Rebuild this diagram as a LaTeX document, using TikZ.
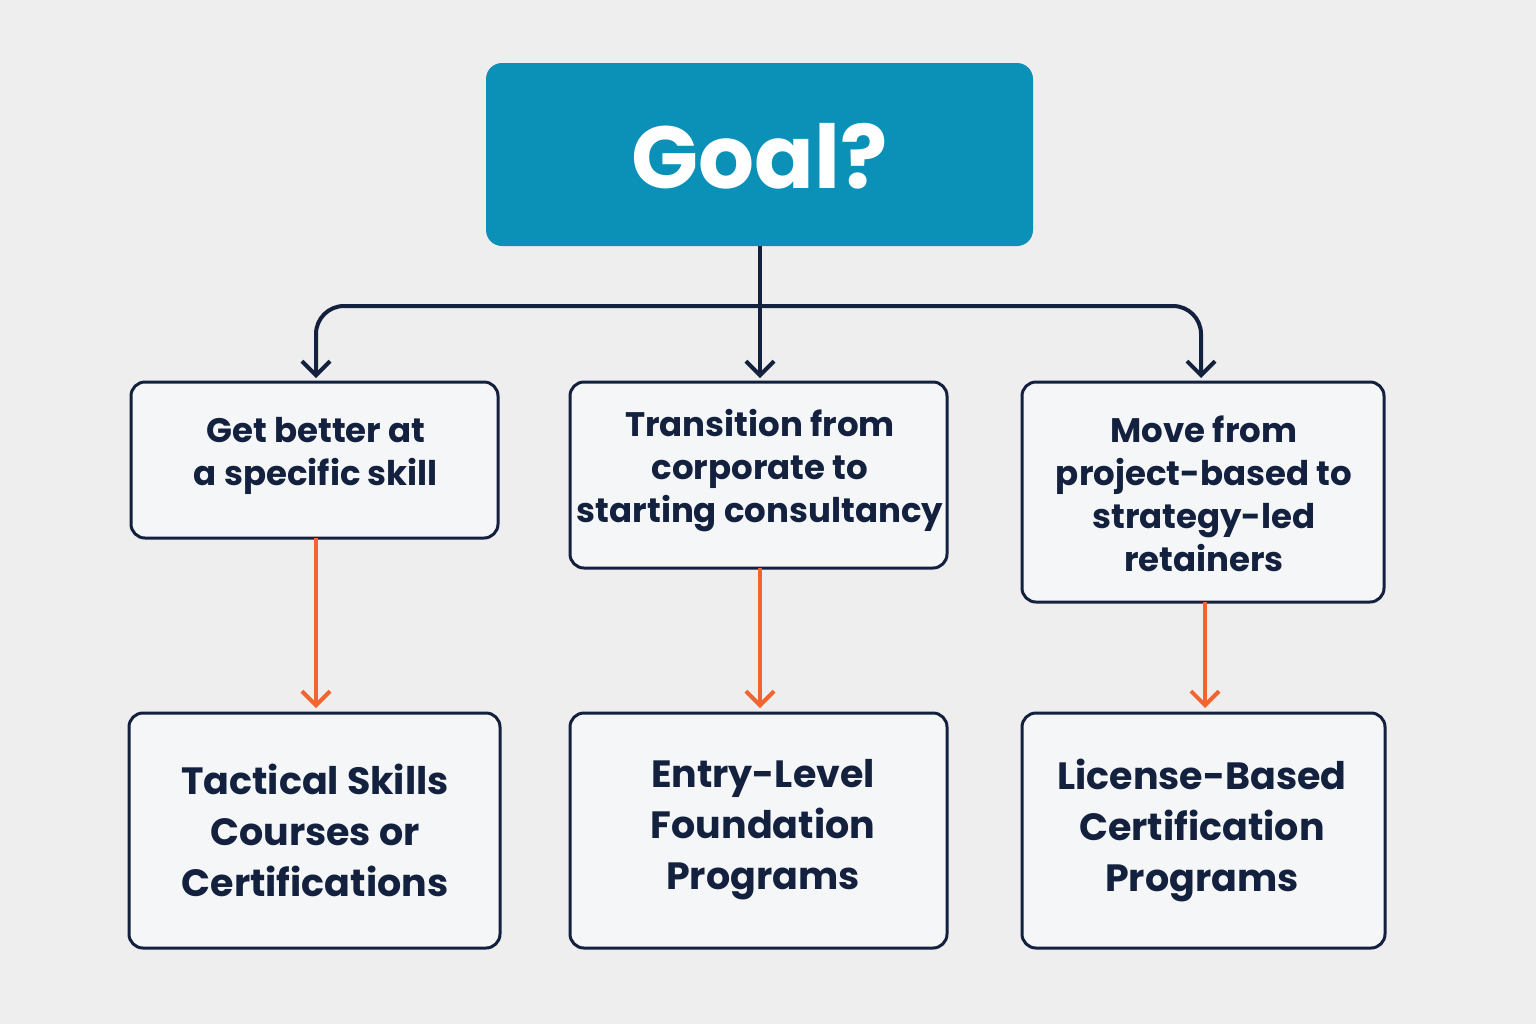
\documentclass[tikz,border=0pt]{standalone}
\usepackage{fontspec}
\setmainfont{Poppins}
\usetikzlibrary{arrows.meta}
\definecolor{bg}{HTML}{EEEEEE}
\definecolor{teal}{HTML}{0B91B8}
\definecolor{navy}{HTML}{13213F}
\definecolor{orng}{HTML}{F26430}
\definecolor{boxf}{HTML}{F5F6F7}
\tikzset{
  px/.style={x=0.5pt,y=-0.5pt},
  card/.style={draw=navy,line width=1.5pt,fill=boxf,rounded corners=7pt},
  lbl/.style={text=navy,align=center,font=\fontsize{17}{21.5}\selectfont\bfseries},
  lbl2/.style={text=navy,align=center,font=\fontsize{19}{25.5}\selectfont\bfseries},
  navyarrow/.style={draw=navy,line width=2pt,-{Straight Barb[length=7pt,width=14pt,line width=2pt]}},
  orarrow/.style={draw=orng,line width=2pt,-{Straight Barb[length=7pt,width=14pt,line width=2pt]}}
}
\begin{document}
\begin{tikzpicture}[px]
\fill[bg] (0,0) rectangle (1536,1024);
\useasboundingbox (0,0) rectangle (1536,1024);
\fill[teal,rounded corners=8pt] (486,63) rectangle (1033,246);
\node[text=white,font=\fontsize{44}{50}\selectfont\bfseries] (goal) at (759.5,156) {Goal?};
\coordinate (gb) at (760,246);
% row 1
\draw[card] (131,382) rectangle (498,538);
\node[lbl] (a1) at (316,456) {Get better at\\a specific skill};
\draw[card] (570,382) rectangle (947,568);
\node[lbl] (b1) at (760,471) {Transition from\\corporate to\\starting consultancy};
\draw[card] (1022,382) rectangle (1384,602);
\node[lbl] (c1) at (1204,494) {Move from\\project-based to\\strategy-led\\retainers};
% row 2
\draw[card] (129,713) rectangle (500,948);
\node[lbl2] (a2) at (315,830) {Tactical Skills\\Courses or\\Certifications};
\draw[card] (570,713) rectangle (947,948);
\node[lbl2] (b2) at (763,830) {Entry-Level\\Foundation\\Programs};
\draw[card] (1022,713) rectangle (1385,948);
\node[lbl2] (c2) at (1202,830) {License-Based\\Certification\\Programs};
% navy connectors
\coordinate (ta) at (316,378);
\coordinate (tb) at (760,378);
\coordinate (tc) at (1201,378);
\draw[navyarrow] (gb) -- (tb);
\draw[navyarrow,rounded corners=14pt] (760,306) -- (316,306) -- (ta);
\draw[navyarrow,rounded corners=14pt] (760,306) -- (1201,306) -- (tc);
% orange
\coordinate (ab) at (316,538); \coordinate (at) at (316,708);
\coordinate (bb) at (760,568); \coordinate (bt) at (760,708);
\coordinate (cb) at (1205,602); \coordinate (ct) at (1205,708);
\draw[orarrow] (ab) -- (at);
\draw[orarrow] (bb) -- (bt);
\draw[orarrow] (cb) -- (ct);
\end{tikzpicture}
\end{document}
